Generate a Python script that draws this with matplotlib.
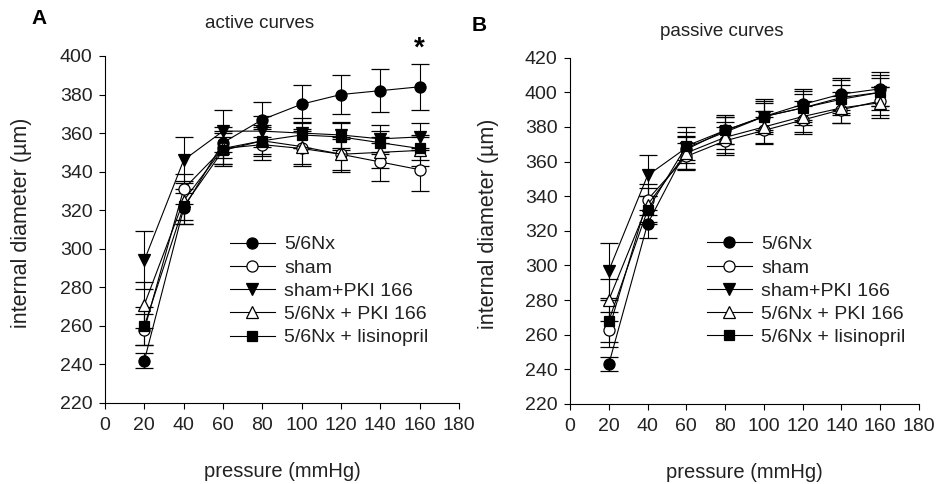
import matplotlib
matplotlib.use("Agg")
import matplotlib.pyplot as plt
from matplotlib.lines import Line2D

plt.rcParams['font.family'] = ['Liberation Sans', 'DejaVu Sans']

pressure = [20, 40, 60, 80, 100, 120, 140, 160]
groups = ["5/6Nx", "sham", "sham+PKI 166", "5/6Nx + PKI 166", "5/6Nx + lisinopril"]

# active curves (internal diameter, µm) and SEM
active_56nx = [242, 321, 355, 367, 375, 380, 382, 384]
active_sham = [258, 331, 352, 354, 352, 349, 345, 341]
active_sham_pki = [294, 346, 361, 361, 360, 359, 357, 358]
active_56nx_pki = [271, 325, 352, 356, 353, 349, 350, 351]
active_56nx_lis = [260, 322, 351, 356, 359, 358, 355, 352]

active_56nx_err = [4, 8, 8, 9, 10, 10, 11, 12]
active_sham_err = [8, 8, 9, 8, 9, 9, 10, 11]
active_sham_pki_err = [15, 12, 11, 8, 8, 7, 7, 7]
active_56nx_pki_err = [12, 10, 8, 8, 9, 8, 8, 8]
active_56nx_lis_err = [10, 9, 7, 7, 7, 7, 6, 6]

# passive curves (internal diameter, µm) and SEM
passive_56nx = [243, 324, 367, 378, 386, 393, 399, 402]
passive_sham = [263, 338, 363, 372, 378, 384, 390, 395]
passive_sham_pki = [297, 352, 368, 377, 386, 391, 397, 400]
passive_56nx_pki = [280, 335, 365, 374, 380, 386, 391, 394]
passive_56nx_lis = [268, 332, 369, 378, 386, 391, 396, 400]

passive_56nx_err = [4, 8, 8, 8, 9, 9, 9, 10]
passive_sham_err = [10, 9, 8, 8, 8, 8, 8, 8]
passive_sham_pki_err = [16, 12, 12, 10, 10, 10, 10, 10]
passive_56nx_pki_err = [12, 10, 9, 9, 9, 9, 9, 9]
passive_56nx_lis_err = [12, 8, 8, 8, 8, 8, 8, 8]

x_ticks = [0, 20, 40, 60, 80, 100, 120, 140, 160, 180]
active_yticks = [220, 240, 260, 280, 300, 320, 340, 360, 380, 400]
passive_yticks = [220, 240, 260, 280, 300, 320, 340, 360, 380, 400, 420]

styles = [
    dict(marker='o', mfc='black'),
    dict(marker='o', mfc='white'),
    dict(marker='v', mfc='black'),
    dict(marker='^', mfc='white'),
    dict(marker='s', mfc='black'),
]

FS = 14
TXT = '#222222'

fig = plt.figure(figsize=(9.42, 4.84), dpi=100)
axA = fig.add_axes([0.1115, 0.1674, 0.3758, 0.717])
axB = fig.add_axes([0.6051, 0.1653, 0.3705, 0.7155])


def marker_kw(st):
    return dict(marker=st['marker'], mfc=st['mfc'], mec='black', mew=0.9,
                ms=8 if st['marker'] != 's' else 7.5)


def draw(ax, series, errors, yticks, ylim):
    handles = []
    for name, vals, errs, st in zip(groups, series, errors, styles):
        ax.errorbar(pressure, vals, yerr=errs, color='black', lw=0.8,
                    elinewidth=0.8, capsize=6.5, capthick=0.8,
                    **marker_kw(st))
        handles.append(Line2D([], [], color='black', lw=0.8, **marker_kw(st)))
    ax.set_xlim(0, 180)
    ax.set_ylim(*ylim)
    ax.set_xticks(x_ticks)
    ax.set_yticks(yticks)
    for s in ('top', 'right'):
        ax.spines[s].set_visible(False)
    for s in ('left', 'bottom'):
        ax.spines[s].set_linewidth(0.8)
    ax.tick_params(direction='out', length=4, width=0.8, labelsize=FS,
                   labelcolor=TXT)
    ax.tick_params(axis='x', pad=6)
    ax.tick_params(axis='y', pad=5)
    ax.set_xlabel('pressure (mmHg)', fontsize=FS + 0.5, color=TXT)
    ax.set_ylabel('internal diameter (\u00b5m)', fontsize=FS + 1.5, color=TXT)
    ax.xaxis.set_label_coords(0.5, -0.17)
    return handles


hA = draw(axA,
          [active_56nx, active_sham, active_sham_pki, active_56nx_pki, active_56nx_lis],
          [active_56nx_err, active_sham_err, active_sham_pki_err, active_56nx_pki_err, active_56nx_lis_err],
          active_yticks, (220, 400))
hB = draw(axB,
          [passive_56nx, passive_sham, passive_sham_pki, passive_56nx_pki, passive_56nx_lis],
          [passive_56nx_err, passive_sham_err, passive_sham_pki_err, passive_56nx_pki_err, passive_56nx_lis_err],
          passive_yticks, (220, 420))

axA.yaxis.set_label_coords(-0.205, 0.52)
axB.yaxis.set_label_coords(-0.203, 0.52)

for ax, h, xa, ya in ((axA, hA, 0.353, 0.482), (axB, hB, 0.392, 0.486)):
    leg = ax.legend(h, groups, loc='upper left', bbox_to_anchor=(xa, ya),
                    frameon=False, fontsize=FS, handlelength=2.3,
                    handletextpad=0.5, labelspacing=0.29, borderpad=0,
                    borderaxespad=0)
    for t in leg.get_texts():
        t.set_color(TXT)

fig.text(0.041, 0.962, 'A', fontsize=FS + 1, fontweight='bold', ha='center', va='center')
fig.text(0.509, 0.947, 'B', fontsize=FS + 1, fontweight='bold', ha='center', va='center')
fig.text(260 / 942, 1 - 24 / 484, 'active curves', fontsize=FS - 0.5, ha='center', va='center', color=TXT)
fig.text(722 / 942, 1 - 31 / 484, 'passive curves', fontsize=FS - 0.5, ha='center', va='center', color=TXT)
axA.text(160, 404, '*', fontsize=20, fontweight='bold', ha='center', va='center')

fig.savefig('out.png', dpi=100)
